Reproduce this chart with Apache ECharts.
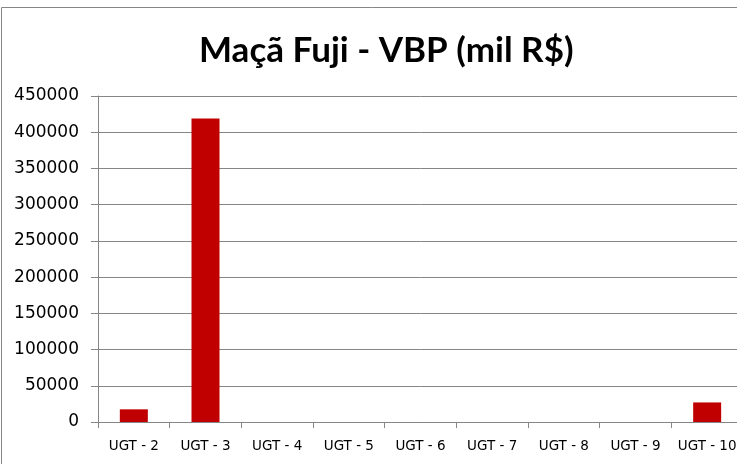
<!DOCTYPE html>
<html><head><meta charset="utf-8">
<script src="https://cdn.jsdelivr.net/npm/echarts@6/dist/echarts.min.js"></script>
<style>html,body{margin:0;padding:0;background:#fff;overflow:hidden}#c{width:743px;height:464px}</style>
</head><body><div id="c"></div>
<script>
var categories = ['UGT - 2','UGT - 3','UGT - 4','UGT - 5','UGT - 6','UGT - 7','UGT - 8','UGT - 9','UGT - 10'];
var values = [17500, 419000, 0, 0, 0, 0, 0, 0, 27000];
var yTicks = {min: 0, max: 450000, interval: 50000};
var titleText = 'Maçã Fuji - VBP (mil R$)';

var chart = echarts.init(document.getElementById('c'), null, {renderer: 'canvas'});
chart.setOption({
  animation: false,
  backgroundColor: '#fff',
  graphic: [{type: 'rect', shape: {x: 1.5, y: 7.5, width: 800, height: 500}, style: {fill: 'none', stroke: '#868686', lineWidth: 1}, silent: true}],
  title: {text: titleText, left: 194, top: 28, textStyle: {fontFamily: 'Lato', fontWeight: 'bold', fontSize: 35, color: '#000'}},
  grid: {left: 98, right: 0, top: 96, bottom: 42, containLabel: false},
  xAxis: {type: 'category', data: categories,
    axisLine: {lineStyle: {color: '#868686'}},
    axisTick: {show: true, length: 6, lineStyle: {color: '#868686'}},
    axisLabel: {fontFamily: 'DejaVu Sans', fontSize: 13.5, color: '#000', margin: 17, interval: 0}},
  yAxis: {type: 'value', min: yTicks.min, max: yTicks.max, interval: yTicks.interval,
    axisLine: {show: true, lineStyle: {color: '#868686'}},
    axisTick: {show: true, length: 7, lineStyle: {color: '#868686'}},
    splitLine: {lineStyle: {color: '#868686'}},
    axisLabel: {fontFamily: 'DejaVu Sans', fontSize: 17, color: '#000', margin: 19, formatter: function (v) { return String(v); }}},
  series: [{type: 'bar', data: values, barWidth: 28, itemStyle: {color: '#C00000'}}]
});
</script></body></html>
